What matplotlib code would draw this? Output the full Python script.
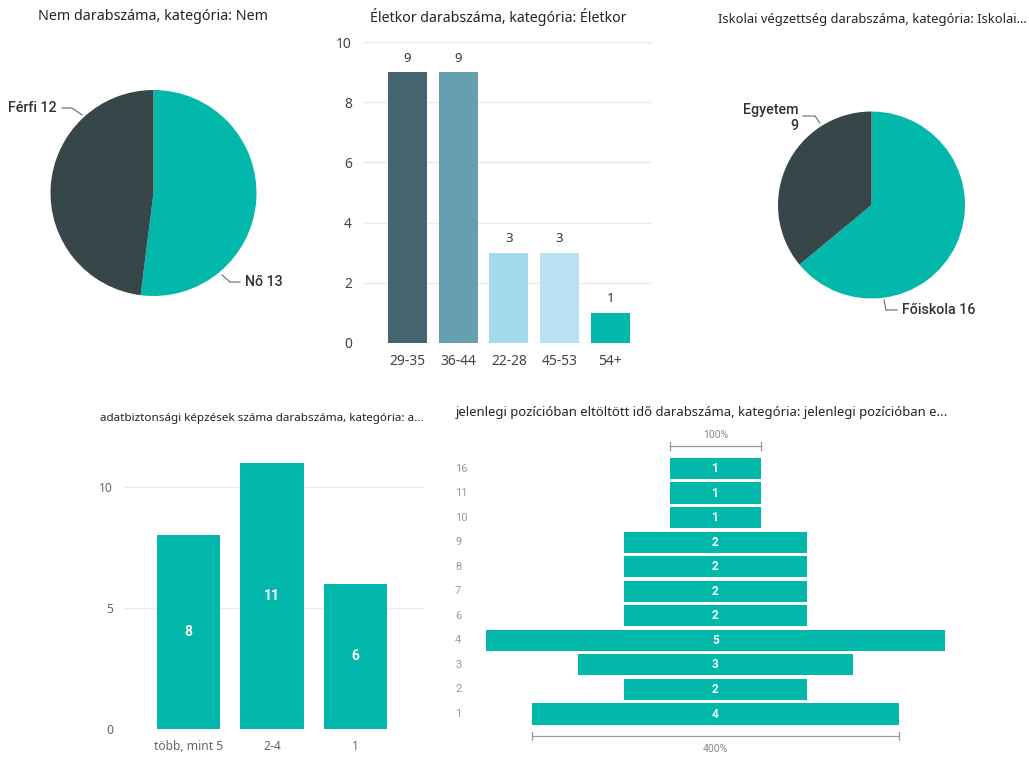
import numpy as np
import matplotlib
matplotlib.use('Agg')
import matplotlib.pyplot as plt

# nem (gender)
gender_labels = ['Nő', 'Férfi']
gender_counts = [13, 12]

# életkor (age groups)
age_labels = ['29-35', '36-44', '22-28', '45-53', '54+']
age_counts = [9, 9, 3, 3, 1]

# iskolai végzettség (education)
edu_labels = ['Főiskola', 'Egyetem']
edu_counts = [16, 9]

# adatbiztonsági képzések száma (security trainings)
train_labels = ['több, mint 5', '2-4', '1']
train_counts = [8, 11, 6]

# jelenlegi pozícióban eltöltött idő (years in current position)
pos_labels = ['16', '11', '10', '9', '8', '7', '6', '4', '3', '2', '1']
pos_counts = [1, 1, 1, 2, 2, 2, 2, 5, 3, 2, 4]

TEAL = '#01B8AA'
DARK = '#374649'
AGE_COLORS = ['#45646F', '#669FB0', '#A3DAEE', '#B9E1F1', TEAL]
TITLE_C = '#252423'
TICK_C = '#666666'
GRID_C = '#EAEAEA'

plt.rcParams['font.family'] = ['Noto Sans', 'DejaVu Sans']

W, H = 1029, 757
fig = plt.figure(figsize=(W / 100, H / 100), dpi=100)
fig.patch.set_facecolor('white')


def px_axes(x0, y0, x1, y1):
    return fig.add_axes([x0 / W, 1 - y1 / H, (x1 - x0) / W, (y1 - y0) / H])


def title(x, y, s, size):
    fig.text(x / W, 1 - y / H, s, fontsize=size, color=TITLE_C, va='center', ha='left')


def leader(ax, pts, text, tx, ty, ha):
    xs, ys = zip(*pts)
    ax.plot(xs, ys, color='#666666', lw=0.8, clip_on=False)
    ax.text(tx, ty, text, fontsize=10.3, color='#333333', ha=ha, va='center',
            family=['Roboto', 'DejaVu Sans'], fontweight='medium', linespacing=1.1)


def pie_axes(cx, cy, r):
    ax = px_axes(cx - r, cy - r, cx + r, cy + r)
    return ax


# --- Nem pie ---
title(38, 17, 'Nem darabszáma, kategória: Nem', 10.3)
ax1 = pie_axes(153.5, 193, 103)
ax1.pie(gender_counts, colors=[TEAL, DARK], startangle=90, counterclock=False,
        wedgeprops=dict(linewidth=0))
ax1.set_xlim(-1, 1)
ax1.set_ylim(-1, 1)
leader(ax1, [(-0.694, 0.757), (-0.791, 0.825), (-0.888, 0.825)],
       f'{gender_labels[1]} {gender_counts[1]}', -0.937, 0.825, 'right')
leader(ax1, [(0.665, -0.796), (0.743, -0.864), (0.840, -0.864)],
       f'{gender_labels[0]} {gender_counts[0]}', 0.888, -0.864, 'left')

# --- Életkor bar chart ---
title(370, 17, 'Életkor darabszáma, kategória: Életkor', 10.2)
ax2 = px_axes(363, 42, 652, 343)
x = np.arange(len(age_labels))
ax2.bar(x, age_counts, width=0.77, color=AGE_COLORS)
for xi, v in zip(x, age_counts):
    ax2.text(xi, v + 0.25, str(v), ha='center', va='bottom', fontsize=9.5, color='#333333')
ax2.set_xlim(-0.877, 4.82)
ax2.set_ylim(0, 10)
ax2.set_yticks([0, 2, 4, 6, 8, 10])
ax2.set_xticks(x)
ax2.set_xticklabels(age_labels)
ax2.grid(axis='y', color=GRID_C, lw=1)
ax2.set_axisbelow(True)
ax2.tick_params(length=0, labelsize=10, labelcolor='#444444', pad=8)
for s in ax2.spines.values():
    s.set_visible(False)

# --- Iskolai végzettség pie ---
title(718, 20, 'Iskolai végzettség darabszáma, kategória: Iskolai...', 9.3)
ax3 = pie_axes(871.5, 205, 93.5)
ax3.pie(edu_counts, colors=[TEAL, DARK], startangle=90, counterclock=False,
        wedgeprops=dict(linewidth=0))
ax3.set_xlim(-1, 1)
ax3.set_ylim(-1, 1)
leader(ax3, [(-0.553, 0.877), (-0.604, 0.952), (-0.733, 0.952)],
       f'{edu_labels[1]}\n{edu_counts[1]}', -0.786, 0.93, 'right')
leader(ax3, [(0.134, -1.016), (0.155, -1.123), (0.273, -1.123)],
       f'{edu_labels[0]} {edu_counts[0]}', 0.326, -1.123, 'left')

# --- adatbiztonsági képzések bar chart ---
title(100, 418, 'adatbiztonsági képzések száma darabszáma, kategória: a...', 8.4)
ax4 = px_axes(124, 450, 425, 729)
x4 = np.arange(len(train_labels))
ax4.bar(x4, train_counts, width=0.755, color=TEAL)
for xi, v in zip(x4, train_counts):
    ax4.text(xi, v / 2, str(v), ha='center', va='center', fontsize=10,
             color='white', fontweight='bold', family=['Roboto', 'DejaVu Sans'])
ax4.set_xlim(-0.772, 2.832)
ax4.set_ylim(0, 11.52)
ax4.set_yticks([0, 5, 10])
ax4.set_xticks(x4)
ax4.set_xticklabels(train_labels)
ax4.grid(axis='y', color=GRID_C, lw=1)
ax4.set_axisbelow(True)
ax4.tick_params(length=0, labelsize=8.7, labelcolor=TICK_C, pad=8)
for s in ax4.spines.values():
    s.set_visible(False)

# --- jelenlegi pozíció funnel ---
title(456, 412, 'jelenlegi pozícióban eltöltött idő darabszáma, kategória: jelenlegi pozícióban e...', 9.4)
cx, unit, row0, row_h = 715.5, 91.7, 468.5, 24.55
ax5 = px_axes(440, 420, 1000, 757)
ax5.set_xlim((440 - cx) / unit, (1000 - cx) / unit)
ax5.set_ylim((757 - row0) / row_h, (420 - row0) / row_h)
ax5.axis('off')
rows = np.arange(len(pos_labels))
vals = np.array(pos_counts)
ax5.barh(rows, vals, left=-vals / 2, height=0.86, color=TEAL)
for r, v, lab in zip(rows, vals, pos_labels):
    ax5.text(0, r, str(v), ha='center', va='center', fontsize=8.5, color='white',
             fontweight='bold', family=['Roboto', 'DejaVu Sans'])
    ax5.text((455 - cx) / unit, r, lab, ha='left', va='center', fontsize=8, color='#999999',
             family=['Roboto', 'DejaVu Sans'])


def bracket(v, y, ty, pct):
    ax5.plot([-v / 2, v / 2], [y, y], color='#999999', lw=0.9)
    for xe in (-v / 2, v / 2):
        ax5.plot([xe, xe], [y - 0.17, y + 0.17], color='#999999', lw=0.9)
    ax5.text(0, ty, f'{pct:.0f}%', ha='center', va='center', fontsize=7.5, color='#888888',
             family=['Roboto', 'DejaVu Sans'])


bracket(vals[0], (446 - row0) / row_h, (435 - row0) / row_h, 100)
bracket(vals[-1], (736 - row0) / row_h, (749 - row0) / row_h, vals[-1] / vals[0] * 100)

fig.savefig('out.png', dpi=100, facecolor='white')
